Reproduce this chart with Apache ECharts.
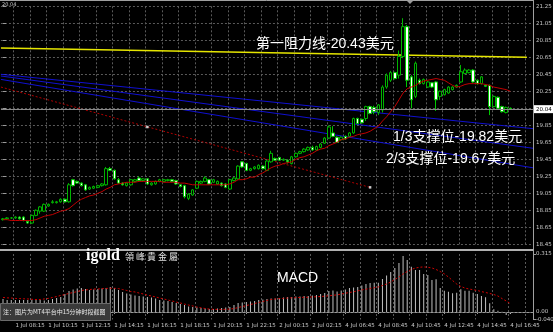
<!DOCTYPE html>
<html><head><meta charset="utf-8">
<script src="https://cdn.jsdelivr.net/npm/echarts@6/dist/echarts.min.js"></script>
<style>html,body{margin:0;padding:0;background:#000;}#c{width:553px;height:332px;}</style>
</head><body><div id="c"></div>
<script>
// ---- data (15-minute bars) ----
const timeLabels = ['1 Jul 08:15','1 Jul 10:15','1 Jul 12:15','1 Jul 14:15','1 Jul 16:15','1 Jul 18:15','1 Jul 20:15','1 Jul 22:15','2 Jul 00:15','2 Jul 02:15','4 Jul 06:45','4 Jul 08:45','4 Jul 10:45','4 Jul 12:45','4 Jul 14:45','4 Jul 16:45'];
const opens  = [18.74,18.75,18.76,18.76,18.77,18.77,18.72,18.70,18.79,18.84,18.84,18.90,18.94,18.94,18.95,18.98,18.95,19.21,19.19,19.17,19.15,19.10,19.11,19.12,19.14,19.15,19.34,19.32,19.21,19.17,19.14,19.15,19.19,19.23,19.20,19.22,19.15,19.16,19.19,19.19,19.20,19.21,19.20,19.15,19.14,18.99,19.03,19.11,19.17,19.19,19.21,19.18,19.16,19.17,19.16,19.10,19.20,19.22,19.42,19.40,19.32,19.34,19.34,19.37,19.32,19.42,19.46,19.47,19.44,19.44,19.40,19.48,19.52,19.54,19.56,19.59,19.56,19.59,19.64,19.70,19.76,19.71,19.68,19.72,19.72,19.76,19.93,19.92,19.93,20.07,20.06,20.00,20.03,20.30,20.38,20.47,20.44,20.66,21.01,20.42,20.19,20.38,20.34,20.30,20.35,20.36,20.19,20.21,20.23,20.27,20.30,20.36,20.46,20.47,20.50,20.38,20.34,20.32,20.32,20.07,20.18,20.07,20.00,20.05];
const closes = [18.75,18.76,18.76,18.77,18.75,18.73,18.70,18.79,18.85,18.89,18.92,18.92,18.95,18.95,18.98,18.95,19.15,19.14,19.17,19.14,19.09,19.12,19.13,19.14,19.16,19.34,19.32,19.22,19.17,19.15,19.17,19.21,19.21,19.20,19.22,19.16,19.17,19.19,19.21,19.21,19.21,19.19,19.16,19.13,19.01,19.04,19.09,19.19,19.19,19.23,19.16,19.21,19.19,19.14,19.12,19.21,19.23,19.37,19.36,19.32,19.34,19.36,19.38,19.34,19.43,19.52,19.44,19.44,19.45,19.42,19.48,19.52,19.54,19.57,19.59,19.56,19.60,19.63,19.70,19.83,19.72,19.65,19.71,19.69,19.76,19.93,19.87,19.88,20.07,19.99,20.01,20.09,20.30,20.44,20.47,20.40,20.66,21.01,20.38,20.15,20.58,20.34,20.39,20.36,20.30,20.15,20.25,20.27,20.30,20.30,20.32,20.48,20.50,20.50,20.36,20.34,20.42,20.31,20.07,20.19,20.05,20.01,20.06,20.04];
const lows   = [18.73,18.74,18.75,18.75,18.74,18.72,18.69,18.69,18.78,18.81,18.83,18.89,18.93,18.93,18.94,18.94,18.94,19.13,19.16,19.13,19.08,19.09,19.10,19.11,19.13,19.14,19.31,19.21,19.16,19.14,19.13,19.14,19.18,19.19,19.19,19.15,19.14,19.15,19.18,19.18,19.19,19.18,19.15,19.12,18.99,18.97,19.02,19.10,19.16,19.18,19.15,19.17,19.15,19.13,19.11,19.09,19.19,19.21,19.35,19.31,19.31,19.33,19.33,19.33,19.31,19.41,19.43,19.43,19.43,19.40,19.39,19.47,19.51,19.53,19.55,19.55,19.55,19.58,19.63,19.69,19.71,19.64,19.67,19.68,19.71,19.75,19.86,19.87,19.90,19.98,19.98,19.97,20.00,20.28,20.36,20.39,20.40,20.64,20.30,20.05,20.17,20.33,20.33,20.29,20.29,20.02,20.15,20.20,20.22,20.26,20.29,20.35,20.45,20.46,20.35,20.33,20.33,20.30,19.97,20.06,20.04,20.00,19.99,20.03];
const highs  = [18.76,18.77,18.77,18.78,18.78,18.78,18.73,18.80,18.86,18.90,18.93,18.93,18.97,18.96,18.99,18.99,19.17,19.22,19.20,19.18,19.16,19.13,19.14,19.15,19.17,19.36,19.36,19.33,19.23,19.18,19.18,19.22,19.22,19.25,19.23,19.23,19.18,19.20,19.22,19.22,19.22,19.22,19.21,19.16,19.15,19.05,19.10,19.20,19.20,19.25,19.22,19.22,19.20,19.18,19.17,19.22,19.24,19.38,19.43,19.41,19.35,19.37,19.39,19.38,19.44,19.55,19.47,19.48,19.46,19.45,19.49,19.53,19.55,19.58,19.60,19.61,19.61,19.64,19.71,19.85,19.84,19.72,19.72,19.73,19.77,19.94,19.94,19.93,20.08,20.08,20.08,20.10,20.32,20.46,20.49,20.48,20.73,21.11,21.03,20.44,20.60,20.40,20.40,20.37,20.36,20.37,20.26,20.28,20.31,20.31,20.33,20.56,20.52,20.51,20.51,20.39,20.43,20.33,20.33,20.20,20.19,20.08,20.07,20.06];
const movingAvg = [18.74,18.74,18.73,18.73,18.73,18.73,18.73,18.73,18.74,18.76,18.78,18.79,18.80,18.82,18.84,18.85,18.87,18.91,18.95,18.98,19.00,19.02,19.03,19.05,19.07,19.10,19.12,19.15,19.16,19.17,19.18,19.18,19.18,19.19,19.19,19.19,19.19,19.19,19.19,19.18,19.18,19.18,19.18,19.17,19.17,19.16,19.15,19.15,19.15,19.15,19.15,19.15,19.15,19.15,19.15,19.16,19.18,19.21,19.21,19.22,19.24,19.24,19.27,19.29,19.32,19.35,19.37,19.38,19.40,19.41,19.42,19.45,19.47,19.48,19.50,19.52,19.55,19.57,19.58,19.61,19.63,19.65,19.68,19.69,19.71,19.72,19.74,19.75,19.76,19.78,19.81,19.84,19.90,19.95,20.01,20.07,20.15,20.23,20.28,20.30,20.32,20.35,20.37,20.38,20.39,20.40,20.39,20.38,20.35,20.32,20.30,20.31,20.33,20.34,20.34,20.34,20.34,20.33,20.32,20.30,20.29,20.28,20.27,20.25];
const macdMain = [0.071,0.065,0.065,0.065,0.065,0.065,0.065,0.065,0.065,0.065,0.063,0.065,0.071,0.076,0.082,0.098,0.114,0.122,0.128,0.130,0.125,0.120,0.122,0.125,0.128,0.130,0.136,0.130,0.120,0.109,0.101,0.095,0.090,0.087,0.084,0.082,0.079,0.073,0.065,0.063,0.060,0.054,0.049,0.043,0.038,0.030,0.027,0.024,0.022,0.019,0.016,0.016,0.019,0.022,0.024,0.027,0.038,0.049,0.052,0.054,0.057,0.060,0.065,0.068,0.071,0.073,0.074,0.076,0.079,0.082,0.082,0.084,0.084,0.087,0.087,0.090,0.092,0.098,0.103,0.114,0.117,0.111,0.117,0.122,0.130,0.133,0.136,0.144,0.152,0.158,0.159,0.159,0.179,0.198,0.217,0.239,0.266,0.304,0.283,0.246,0.228,0.228,0.207,0.201,0.174,0.178,0.130,0.116,0.110,0.102,0.105,0.123,0.116,0.116,0.105,0.098,0.087,0.080,0.047,0.015,0.007,0.002,-0.016,-0.011];
const macdSignal = [0.079,0.077,0.076,0.074,0.073,0.072,0.071,0.069,0.068,0.068,0.071,0.074,0.079,0.084,0.090,0.095,0.101,0.106,0.111,0.117,0.120,0.122,0.125,0.125,0.127,0.128,0.129,0.129,0.127,0.122,0.117,0.111,0.109,0.103,0.098,0.092,0.087,0.082,0.076,0.071,0.065,0.060,0.054,0.049,0.043,0.038,0.033,0.027,0.023,0.019,0.016,0.015,0.014,0.014,0.015,0.016,0.019,0.024,0.030,0.035,0.041,0.046,0.052,0.057,0.063,0.068,0.071,0.073,0.074,0.076,0.077,0.078,0.079,0.080,0.080,0.082,0.083,0.084,0.086,0.088,0.091,0.093,0.098,0.102,0.106,0.110,0.115,0.120,0.124,0.128,0.132,0.136,0.144,0.152,0.163,0.177,0.190,0.207,0.220,0.231,0.239,0.243,0.245,0.243,0.239,0.231,0.220,0.207,0.190,0.171,0.152,0.139,0.130,0.125,0.121,0.117,0.111,0.106,0.101,0.095,0.087,0.073,0.060,0.046];
// drawn objects: [bar index, price]
const resistanceLine = [[-0.5, 20.76], [127, 20.65]];
const supportLine1 = [[-0.5, 20.45], [128.5, 19.81]];
const supportLine2 = [[-0.5, 20.43], [128.5, 19.58]];
const supportLine3 = [[-0.5, 20.39], [128.5, 19.35]];
const redTrend = [[-0.5, 20.30], [89, 19.12]];
const redTrendMarks = [[35, 19.83], [89, 19.12]];
const bidPrice = 20.04;
const slotCount = 129;

const categories = Array.from({length: slotCount}, (_, i) => String(i));
const candles = opens.map((o, i) => [o, closes[i], lows[i], highs[i]]);
const isLabel = i => i >= 3 && (i - 3) % 8 === 0 && (i - 3) / 8 < timeLabels.length;
const isGrid = i => i >= 3 && (i - 3) % 4 === 0;

const gridLine = {show: true, lineStyle: {color: '#5a5a5a', type: [2, 2], width: 1}};
const tickFont = {color: '#c8c8c8', fontSize: 5.5, fontFamily: 'DejaVu Sans'};
const txtFont = "14px 'Liberation Sans','Noto Sans CJK SC',sans-serif";

const chart = echarts.init(document.getElementById('c'), null, {renderer: 'canvas'});
chart.setOption({
  backgroundColor: '#000',
  animation: false,
  grid: [
    {left: 0.94, width: 532.06, top: 6.3, height: 238, outerBoundsMode: 'none'},
    {left: 0.94, width: 532.06, top: 254, height: 65.4, outerBoundsMode: 'none'}
  ],
  xAxis: [
    {type: 'category', gridIndex: 0, data: categories, boundaryGap: true,
     axisLine: {show: false}, axisTick: {show: false}, axisLabel: {show: false},
     splitLine: Object.assign({interval: i => isGrid(i)}, gridLine)},
    {type: 'value', gridIndex: 0, min: -0.5, max: slotCount - 0.5, show: false},
    {type: 'category', gridIndex: 1, data: categories, boundaryGap: true,
     axisLine: {show: true, lineStyle: {color: '#9a9a9a'}},
     axisTick: {show: true, length: 2, interval: i => isLabel(i), alignWithLabel: true, lineStyle: {color: '#9a9a9a'}},
     axisLabel: Object.assign({show: true, interval: i => isLabel(i), align: 'left', margin: 3,
       formatter: (v, i) => isLabel(i) ? timeLabels[(i - 3) / 8] : ''}, tickFont),
     splitLine: Object.assign({interval: i => isGrid(i)}, gridLine)}
  ],
  yAxis: [
    {type: 'value', gridIndex: 0, position: 'right', min: 18.45, max: 21.25, interval: 0.2,
     axisLine: {show: false}, axisTick: {show: true, length: 3, lineStyle: {color: '#9a9a9a'}},
     axisLabel: Object.assign({margin: 3, formatter: v => Math.abs(v - 20.05) < 0.001 ? '' : v.toFixed(2)}, tickFont),
     splitLine: gridLine},
    {type: 'value', gridIndex: 1, position: 'right', min: -0.04, max: 0.315, interval: 0.355,
     axisLine: {show: false}, axisTick: {show: true, length: 3, lineStyle: {color: '#9a9a9a'}},
     axisLabel: Object.assign({margin: 3, formatter: v => v.toFixed(3)}, tickFont),
     splitLine: {show: false}}
  ],
  series: [
    {type: 'line', xAxisIndex: 1, yAxisIndex: 0, data: supportLine1, symbol: 'none', lineStyle: {color: '#1010d0', width: 1}, z: 2},
    {type: 'line', xAxisIndex: 1, yAxisIndex: 0, data: supportLine2, symbol: 'none', lineStyle: {color: '#1010d0', width: 1}, z: 2},
    {type: 'line', xAxisIndex: 1, yAxisIndex: 0, data: supportLine3, symbol: 'none', lineStyle: {color: '#1010d0', width: 1}, z: 2},
    {type: 'line', xAxisIndex: 1, yAxisIndex: 0, data: resistanceLine, symbol: 'none', lineStyle: {color: '#e6e600', width: 1.5}, z: 2},
    {type: 'line', xAxisIndex: 1, yAxisIndex: 0, data: redTrend, symbol: 'none', lineStyle: {color: '#b00000', width: 1, type: [2, 2]}, z: 2},
    {type: 'scatter', xAxisIndex: 1, yAxisIndex: 0, data: redTrendMarks, symbol: 'rect', symbolSize: 2.5, itemStyle: {color: '#ffffff'}, z: 3},
    {type: 'candlestick', xAxisIndex: 0, yAxisIndex: 0, data: candles, barWidth: 3, z: 4,
     itemStyle: {color: '#000000', color0: '#ffffff', borderColor: '#00b400', borderColor0: '#00c800', borderWidth: 1},
     markLine: {silent: true, symbol: 'none', data: [{yAxis: bidPrice}],
       lineStyle: {color: '#8a8a8a', type: 'solid', width: 1},
       label: {position: 'end', distance: 1, formatter: bidPrice.toFixed(2), color: '#000', backgroundColor: '#ffffff',
         fontSize: 5.5, fontFamily: 'DejaVu Sans', padding: [1, 2]}}},
    {type: 'line', xAxisIndex: 0, yAxisIndex: 0, data: movingAvg, symbol: 'none', lineStyle: {color: '#c00000', width: 1}, z: 5},
    {type: 'bar', xAxisIndex: 2, yAxisIndex: 1, data: macdMain, barWidth: 1, itemStyle: {color: '#c0c0c0'},
     markLine: {silent: true, symbol: 'none', data: [{yAxis: 0}],
       lineStyle: {color: '#6a6a6a', type: [2, 2], width: 1},
       label: {position: 'end', distance: 3, formatter: '0.00', color: '#c8c8c8', fontSize: 5.5, fontFamily: 'DejaVu Sans'}}},
    {type: 'line', xAxisIndex: 2, yAxisIndex: 1, data: macdSignal, symbol: 'none', lineStyle: {color: '#d00000', width: 1, type: [2, 2]}}
  ],
  graphic: [
    {type: 'line', shape: {x1: 533.5, y1: 0, x2: 533.5, y2: 320}, style: {stroke: '#a0a0a0', lineWidth: 1}, z: 10},
    {type: 'line', shape: {x1: 0, y1: 0.5, x2: 533.5, y2: 0.5}, style: {stroke: '#a0a0a0', lineWidth: 1}, z: 10},
    {type: 'line', shape: {x1: 0, y1: 250, x2: 533.5, y2: 250}, style: {stroke: '#b0b0b0', lineWidth: 2}, z: 10},
    {type: 'polygon', shape: {points: [[407, 1], [413, 1], [410, 4]]}, style: {fill: '#9a9a9a'}, z: 10},
    {type: 'text', x: 2, y: 5, style: {text: '20.04', fill: '#c8c8c8', font: "5px 'DejaVu Sans'", verticalAlign: 'middle'}, z: 10},
    {type: 'text', x: 256, y: 44, style: {text: '第一阻力线-20.43美元', fill: '#ffffff', font: txtFont, verticalAlign: 'middle'}, z: 20},
    {type: 'text', x: 393, y: 137, style: {text: '1/3支撑位-19.82美元', fill: '#ffffff', font: txtFont, verticalAlign: 'middle'}, z: 20},
    {type: 'text', x: 386, y: 159, style: {text: '2/3支撑位-19.67美元', fill: '#ffffff', font: txtFont, verticalAlign: 'middle'}, z: 20},
    {type: 'text', x: 277, y: 278, style: {text: 'MACD', fill: '#ffffff', font: txtFont, verticalAlign: 'middle'}, z: 20},
    {type: 'text', x: 86, y: 256, style: {text: 'igold', fill: '#ffffff', font: "bold 16px 'Liberation Serif',serif", verticalAlign: 'middle'}, z: 20},
    {type: 'text', x: 125, y: 257, style: {text: '領 峰 貴 金 屬', fill: '#e0e0e0', font: "9px 'Noto Sans CJK TC',sans-serif", verticalAlign: 'middle'}, z: 20},
    {type: 'rect', shape: {x: 0.5, y: 303.5, width: 110, height: 17}, style: {fill: '#3a3a3a', stroke: '#6a6a6a', lineWidth: 1}, z: 30},
    {type: 'text', x: 3, y: 312, style: {text: '注：图片为MT4平台中15分钟时段截图', fill: '#e8e8e8', font: "6px 'Noto Sans CJK SC',sans-serif", verticalAlign: 'middle'}, z: 31}
  ]
});
</script>
</body></html>
